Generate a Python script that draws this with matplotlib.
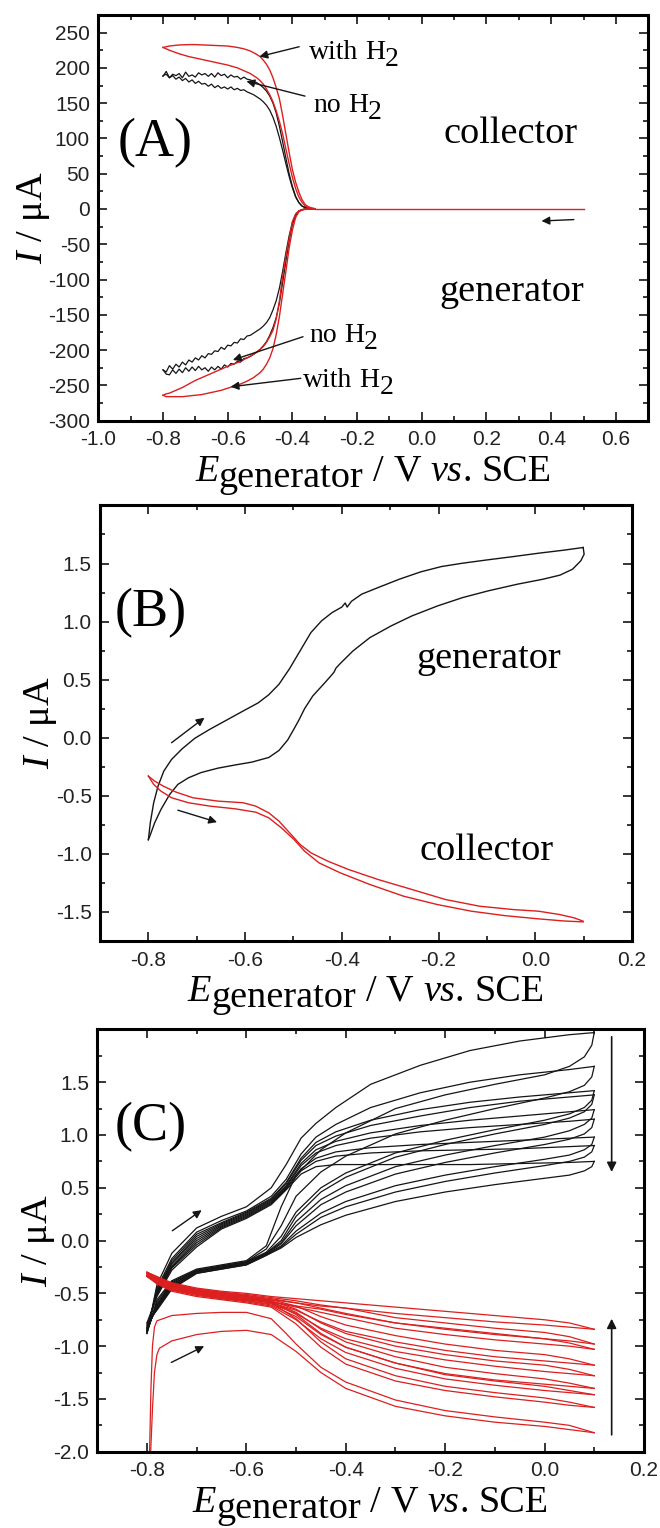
import matplotlib
matplotlib.use("Agg")
import matplotlib.pyplot as plt
from matplotlib.ticker import MultipleLocator

SERIF = "Liberation Serif"
SANS = "Liberation Sans"
RED = "#dc1f1f"
BLACK = "#151515"

# ---------------- panel A : I / uA vs E (V) ----------------
A_E_FINE = [-0.80, -0.79, -0.78, -0.77, -0.76, -0.75, -0.74, -0.73, -0.72, -0.71,
            -0.70, -0.69, -0.68, -0.67, -0.66, -0.65, -0.64, -0.63, -0.62, -0.61,
            -0.60, -0.59, -0.58, -0.57, -0.56, -0.55, -0.54, -0.53, -0.52, -0.51,
            -0.50, -0.49, -0.48, -0.47, -0.46, -0.45, -0.44, -0.43, -0.42, -0.41,
            -0.40, -0.39, -0.38, -0.37, -0.36, -0.35, -0.34, -0.33]
A_BLK_COL_UP = [188, 195, 186, 191, 189, 192, 186, 194, 188, 190,
                187, 193, 190, 192, 188, 192, 187, 193, 189, 191,
                186, 190, 187, 188, 184, 187, 184, 183, 181, 179,
                176, 172, 167, 160, 150, 136, 117, 95, 72, 50,
                32, 18, 9, 4, 2, 1, 0.5, 0]
A_BLK_COL_LO = [189, 191, 186, 189, 184, 187, 182, 185, 180, 183,
                178, 181, 177, 178, 174, 177, 172, 175, 171, 173,
                170, 173, 169, 171, 168, 169, 166, 164, 162, 159,
                156, 152, 147, 140, 130, 117, 101, 83, 64, 46,
                30, 17, 9, 4, 2, 0.5, 0, 0]
A_BLK_GEN_UP = [-228, -231, -222, -227, -220, -224, -217, -221, -214, -217,
                -211, -214, -208, -211, -205, -206, -201, -202, -196, -199,
                -193, -194, -189, -190, -184, -185, -180, -179, -176, -173,
                -170, -166, -161, -154, -143, -130, -112, -88, -62, -38,
                -19, -8, -3, -1, 0, 0, 0, 0]
A_BLK_GEN_LO = [-228, -234, -235, -228, -233, -227, -232, -225, -230, -224,
                -229, -223, -228, -225, -230, -224, -228, -223, -227, -221,
                -224, -219, -220, -216, -217, -212, -211, -209, -206, -203,
                -199, -194, -188, -179, -168, -154, -133, -104, -74, -45,
                -22, -9, -3, -1, 0, 0, 0, 0]

A_E_COL = [-0.80, -0.78, -0.75, -0.72, -0.70, -0.65, -0.60, -0.57, -0.55, -0.53,
           -0.51, -0.50, -0.49, -0.48, -0.47, -0.46, -0.45, -0.44, -0.43, -0.42,
           -0.41, -0.40, -0.39, -0.38, -0.37, -0.36, -0.35, -0.34, -0.33]
A_RED_COL_OUT = [229, 231, 232.5, 233, 233, 232, 231, 229, 227, 224,
                 219, 216, 211, 205, 197, 186, 172, 156, 132, 106,
                 80, 56, 38, 24, 13, 6, 3, 1.5, 0.5]
A_RED_COL_IN = [229, 225, 220, 216, 214, 209, 204, 200, 196, 192,
                186, 182, 177, 170, 162, 152, 139, 124, 106, 85,
                64, 45, 29, 17, 9, 4, 2, 1, 0]

A_E_GEN = [-0.80, -0.79, -0.78, -0.76, -0.74, -0.72, -0.70, -0.68, -0.66, -0.64,
           -0.62, -0.60, -0.58, -0.56, -0.54, -0.52, -0.50, -0.49, -0.48, -0.47,
           -0.46, -0.45, -0.44, -0.43, -0.42, -0.41, -0.40, -0.39, -0.38, -0.37,
           -0.36, -0.35, -0.34, -0.33]
A_RED_GEN_OUT = [-264, -266, -266, -266, -266, -265, -264, -263, -261, -259,
                 -257, -254, -251, -248, -244, -239, -232, -227, -220, -211,
                 -198, -178, -152, -120, -88, -55, -30, -12, -4, -1.5,
                 -0.5, 0, 0, 0]
A_RED_GEN_IN = [-264, -262, -261, -257, -253, -248, -243, -239, -235, -231,
                -227, -223, -219.5, -216, -211, -206, -199, -195, -189, -181,
                -172, -156, -130, -95, -66, -42, -18, -7, -2.5, -1,
                0, 0, 0, 0]
A_E_FLAT = [-0.33, 0.50]
A_I_FLAT = [0, 0]

# ---------------- panel B ----------------
B_BLK_FWD_E = [-0.800, -0.796, -0.789, -0.780, -0.768, -0.752, -0.730, -0.704, -0.674,
               -0.639, -0.604, -0.573, -0.551, -0.530, -0.508, -0.486, -0.464, -0.442,
               -0.420, -0.400, -0.393, -0.389, -0.380, -0.359, -0.325, -0.281, -0.237,
               -0.194, -0.150, -0.098, -0.045, 0.007, 0.059, 0.099]
B_BLK_FWD_I = [-0.880, -0.733, -0.560, -0.417, -0.287, -0.187, -0.095, -0.005, 0.070,
               0.150, 0.230, 0.300, 0.370, 0.460, 0.595, 0.750, 0.905, 1.006,
               1.078, 1.125, 1.160, 1.125, 1.175, 1.236, 1.293, 1.365, 1.428,
               1.474, 1.503, 1.532, 1.560, 1.589, 1.615, 1.638]
B_BLK_RET_E = [0.099, 0.101, 0.094, 0.077, 0.051, 0.016, -0.037, -0.098, -0.150,
               -0.202, -0.255, -0.298, -0.342, -0.377, -0.403, -0.412, -0.416, -0.421,
               -0.438, -0.460, -0.477, -0.489, -0.499, -0.512, -0.530, -0.551, -0.586,
               -0.621, -0.656, -0.691, -0.717, -0.739, -0.756, -0.774, -0.787, -0.797,
               -0.800]
B_BLK_RET_I = [1.638, 1.580, 1.523, 1.451, 1.400, 1.365, 1.322, 1.264, 1.207,
               1.135, 1.049, 0.963, 0.862, 0.747, 0.640, 0.600, 0.565, 0.540,
               0.460, 0.360, 0.250, 0.150, 0.075, -0.020, -0.110, -0.170, -0.210,
               -0.235, -0.262, -0.300, -0.345, -0.402, -0.489, -0.618, -0.733, -0.848,
               -0.876]
B_RED_UP_E = [-0.800, -0.787, -0.769, -0.743, -0.708, -0.656, -0.604, -0.578, -0.551,
              -0.530, -0.508, -0.486, -0.464, -0.429, -0.386, -0.325, -0.255, -0.185,
              -0.115, -0.045, 0.007, 0.051, 0.081, 0.099]
B_RED_UP_I = [-0.330, -0.374, -0.417, -0.468, -0.517, -0.546, -0.560, -0.589, -0.647,
              -0.718, -0.819, -0.920, -0.991, -1.063, -1.135, -1.221, -1.307, -1.394,
              -1.451, -1.480, -1.494, -1.523, -1.552, -1.580]
B_RED_LO_E = [-0.800, -0.789, -0.774, -0.752, -0.717, -0.673, -0.621, -0.578, -0.551,
              -0.525, -0.499, -0.477, -0.447, -0.403, -0.342, -0.272, -0.202, -0.132,
              -0.063, 0.007, 0.059, 0.099]
B_RED_LO_I = [-0.330, -0.402, -0.460, -0.517, -0.560, -0.589, -0.612, -0.641, -0.690,
              -0.776, -0.876, -0.977, -1.078, -1.164, -1.264, -1.365, -1.437, -1.494,
              -1.532, -1.560, -1.578, -1.586]

# ---------------- panel C : repeated cycles ----------------
C_BLK_FWD_E = [-0.80, -0.78, -0.75, -0.70, -0.65, -0.60, -0.55, -0.52, -0.49,
               -0.46, -0.42, -0.35, -0.25, -0.15, -0.05, 0.05, 0.10]
C_BLK_FWD = [
    [-0.88, -0.42, -0.12, 0.12, 0.23, 0.32, 0.50, 0.72, 0.97, 1.11, 1.26, 1.48, 1.66, 1.80, 1.89, 1.95, 1.97],
    [-0.87, -0.45, -0.17, 0.08, 0.19, 0.28, 0.42, 0.58, 0.82, 0.98, 1.10, 1.26, 1.40, 1.50, 1.57, 1.62, 1.65],
    [-0.86, -0.47, -0.19, 0.06, 0.17, 0.27, 0.40, 0.55, 0.78, 0.93, 1.03, 1.14, 1.24, 1.31, 1.36, 1.40, 1.42],
    [-0.85, -0.48, -0.21, 0.04, 0.16, 0.26, 0.39, 0.54, 0.76, 0.90, 0.99, 1.09, 1.18, 1.26, 1.32, 1.36, 1.38],
    [-0.84, -0.49, -0.22, 0.02, 0.15, 0.25, 0.38, 0.52, 0.73, 0.86, 0.94, 1.02, 1.09, 1.14, 1.18, 1.22, 1.24],
    [-0.83, -0.50, -0.24, 0.00, 0.14, 0.24, 0.37, 0.51, 0.71, 0.83, 0.90, 0.97, 1.03, 1.07, 1.10, 1.13, 1.15],
    [-0.82, -0.51, -0.25, -0.02, 0.13, 0.23, 0.36, 0.50, 0.68, 0.78, 0.84, 0.88, 0.91, 0.93, 0.95, 0.97, 0.98],
    [-0.80, -0.52, -0.26, -0.04, 0.12, 0.22, 0.35, 0.49, 0.66, 0.75, 0.80, 0.83, 0.85, 0.86, 0.87, 0.89, 0.90],
    [-0.78, -0.53, -0.28, -0.06, 0.11, 0.21, 0.34, 0.48, 0.63, 0.70, 0.72, 0.72, 0.72, 0.72, 0.73, 0.74, 0.75],
]
C_BLK_RET_E = [0.10, 0.095, 0.08, 0.05, 0.00, -0.10, -0.20, -0.30, -0.40, -0.45,
               -0.50, -0.53, -0.56, -0.60, -0.65, -0.70, -0.75, -0.78, -0.80]
C_BLK_RET = [
    [1.97, 1.85, 1.74, 1.65, 1.57, 1.48, 1.38, 1.25, 1.02, 0.86, 0.62, 0.32, -0.05, -0.19, -0.23, -0.27, -0.38, -0.56, -0.88],
    [1.65, 1.55, 1.47, 1.41, 1.35, 1.25, 1.14, 1.01, 0.80, 0.65, 0.42, 0.14, -0.08, -0.20, -0.24, -0.28, -0.39, -0.58, -0.87],
    [1.42, 1.33, 1.26, 1.20, 1.14, 1.05, 0.95, 0.83, 0.64, 0.50, 0.27, 0.04, -0.11, -0.20, -0.24, -0.28, -0.40, -0.60, -0.86],
    [1.38, 1.29, 1.22, 1.16, 1.10, 1.01, 0.91, 0.79, 0.60, 0.46, 0.23, 0.00, -0.12, -0.21, -0.25, -0.29, -0.41, -0.61, -0.85],
    [1.24, 1.16, 1.10, 1.04, 0.98, 0.90, 0.81, 0.70, 0.52, 0.39, 0.18, -0.02, -0.12, -0.21, -0.25, -0.29, -0.42, -0.62, -0.84],
    [1.15, 1.07, 1.01, 0.96, 0.91, 0.83, 0.74, 0.63, 0.46, 0.34, 0.14, -0.03, -0.13, -0.22, -0.26, -0.30, -0.43, -0.63, -0.83],
    [0.98, 0.91, 0.86, 0.81, 0.77, 0.70, 0.62, 0.52, 0.37, 0.26, 0.09, -0.05, -0.13, -0.22, -0.26, -0.30, -0.44, -0.64, -0.82],
    [0.90, 0.84, 0.79, 0.75, 0.71, 0.64, 0.56, 0.46, 0.32, 0.22, 0.06, -0.06, -0.14, -0.23, -0.27, -0.31, -0.45, -0.65, -0.80],
    [0.75, 0.70, 0.66, 0.62, 0.59, 0.53, 0.46, 0.37, 0.24, 0.15, 0.03, -0.07, -0.14, -0.23, -0.27, -0.31, -0.46, -0.66, -0.78],
]
C_RED_E = [-0.80, -0.78, -0.75, -0.70, -0.65, -0.60, -0.55, -0.50, -0.45, -0.40,
           -0.30, -0.20, -0.10, 0.00, 0.05, 0.10]
C_RED_UP = [
    [-0.31, -0.37, -0.44, -0.49, -0.52, -0.55, -0.59, -0.74, -0.96, -1.12, -1.28, -1.38, -1.44, -1.49, -1.53, -1.58],
    [-0.30, -0.36, -0.43, -0.48, -0.51, -0.54, -0.58, -0.70, -0.88, -1.01, -1.16, -1.27, -1.33, -1.38, -1.42, -1.46],
    [-0.31, -0.36, -0.43, -0.48, -0.51, -0.53, -0.58, -0.68, -0.84, -0.96, -1.10, -1.20, -1.26, -1.31, -1.35, -1.40],
    [-0.30, -0.35, -0.42, -0.47, -0.50, -0.53, -0.57, -0.65, -0.78, -0.88, -1.00, -1.08, -1.14, -1.18, -1.22, -1.28],
    [-0.31, -0.36, -0.42, -0.47, -0.50, -0.52, -0.56, -0.62, -0.72, -0.80, -0.90, -0.98, -1.04, -1.08, -1.12, -1.18],
    [-0.30, -0.35, -0.41, -0.46, -0.49, -0.52, -0.55, -0.59, -0.64, -0.69, -0.78, -0.83, -0.88, -0.93, -0.97, -1.03],
    [-0.31, -0.35, -0.41, -0.46, -0.49, -0.51, -0.54, -0.57, -0.61, -0.64, -0.73, -0.78, -0.83, -0.87, -0.91, -0.98],
    [-0.30, -0.34, -0.40, -0.45, -0.48, -0.50, -0.53, -0.55, -0.57, -0.59, -0.63, -0.67, -0.71, -0.75, -0.78, -0.84],
]
C_RED_LO = [
    [-0.34, -0.41, -0.48, -0.53, -0.56, -0.59, -0.63, -0.79, -1.01, -1.17, -1.33, -1.42, -1.48, -1.53, -1.56, -1.58],
    [-0.33, -0.40, -0.47, -0.52, -0.55, -0.58, -0.62, -0.75, -0.93, -1.06, -1.21, -1.31, -1.37, -1.42, -1.44, -1.46],
    [-0.34, -0.40, -0.47, -0.51, -0.55, -0.57, -0.61, -0.72, -0.89, -1.01, -1.16, -1.26, -1.32, -1.36, -1.38, -1.40],
    [-0.33, -0.39, -0.46, -0.51, -0.54, -0.57, -0.60, -0.69, -0.83, -0.93, -1.05, -1.13, -1.19, -1.24, -1.26, -1.28],
    [-0.34, -0.39, -0.46, -0.50, -0.54, -0.56, -0.59, -0.66, -0.77, -0.86, -0.96, -1.04, -1.10, -1.14, -1.16, -1.18],
    [-0.33, -0.39, -0.45, -0.50, -0.53, -0.56, -0.58, -0.63, -0.68, -0.73, -0.83, -0.89, -0.94, -0.98, -1.00, -1.03],
    [-0.33, -0.38, -0.45, -0.49, -0.53, -0.55, -0.58, -0.62, -0.65, -0.70, -0.78, -0.84, -0.89, -0.93, -0.95, -0.98],
    [-0.32, -0.37, -0.44, -0.48, -0.52, -0.54, -0.56, -0.59, -0.62, -0.64, -0.69, -0.73, -0.77, -0.80, -0.82, -0.84],
]
# first cycle of the collector, with the start-up transient at -0.8 V
C_RED1_UP_E = [-0.795, -0.792, -0.789, -0.785, -0.78, -0.75, -0.70, -0.65, -0.60, -0.55,
               -0.52, -0.50, -0.45, -0.40, -0.30, -0.20, -0.10, 0.00, 0.05, 0.10]
C_RED1_UP_I = [-2.05, -1.40, -1.00, -0.82, -0.76, -0.71, -0.69, -0.68, -0.68, -0.74,
               -0.88, -0.98, -1.20, -1.34, -1.51, -1.61, -1.67, -1.72, -1.75, -1.82]
C_RED1_LO_E = [-0.793, -0.789, -0.785, -0.78, -0.775, -0.75, -0.70, -0.65, -0.60, -0.55,
               -0.50, -0.45, -0.40, -0.30, -0.20, -0.10, 0.00, 0.05, 0.10]
C_RED1_LO_I = [-2.05, -1.60, -1.25, -1.08, -1.02, -0.95, -0.89, -0.86, -0.85, -0.89,
               -1.05, -1.25, -1.40, -1.57, -1.66, -1.72, -1.76, -1.79, -1.82]

plt.rcParams.update({
    "axes.unicode_minus": False,
    "font.family": SERIF,
    "mathtext.fontset": "custom",
    "mathtext.rm": SERIF,
    "mathtext.it": SERIF + ":italic",
})

fig = plt.figure(figsize=(6.6, 15.28), dpi=100)
axA = fig.add_axes([0.1489, 0.7247, 0.8333, 0.2655])
axB = fig.add_axes([0.1515, 0.3842, 0.8061, 0.2850])
axC = fig.add_axes([0.1474, 0.0499, 0.8283, 0.2764])


def setup(ax, xlim, ylim, xticks, yticks, xminor, yminor):
    ax.set_xlim(xlim)
    ax.set_ylim(ylim)
    ax.set_xticks(xticks)
    ax.set_yticks(yticks)
    ax.xaxis.set_minor_locator(MultipleLocator(xminor))
    ax.yaxis.set_minor_locator(MultipleLocator(yminor))
    ax.tick_params(which="both", direction="in", top=True, right=True, width=1.1,
                   labelfontfamily=SANS, labelsize=15, labelcolor="#222")
    ax.tick_params(which="major", length=6.5)
    ax.tick_params(which="minor", length=3.6)
    ax.tick_params(axis="y", pad=6)
    ax.tick_params(axis="x", pad=7)
    for s in ax.spines.values():
        s.set_linewidth(2.2)


def text_width(s, size, style):
    r = fig.canvas.get_renderer()
    t = fig.text(0, 0, "x" + s + "x", fontsize=size, family=SERIF, style=style)
    ref = fig.text(0, 0, "xx", fontsize=size, family=SERIF, style=style)
    w = t.get_window_extent(r).width - ref.get_window_extent(r).width
    t.remove()
    ref.remove()
    return w


def rich_text(ax, x, y, pieces, size, coords="data", ha="left", base_dy=0):
    # pieces: (text, style, vertical offset px, spaces before)
    space = text_width(" ", size, "normal")
    widths = [text_width(s, size, st) + n * space for s, st, dy, n in pieces]
    off = -sum(widths) / 2 if ha == "center" else 0.0
    for (s, st, dy, n), w in zip(pieces, widths):
        ax.annotate(s, xy=(x, y), xycoords=coords, xytext=(off + n * space, base_dy + dy),
                    textcoords="offset pixels", fontsize=size, family=SERIF, style=st,
                    ha="left", va="baseline", annotation_clip=False)
        off += w


def arrow(ax, tail, head, lw=1.0, scale=12):
    ax.annotate("", xy=head, xytext=tail,
                arrowprops=dict(arrowstyle="-|>", color=BLACK, lw=lw, mutation_scale=scale,
                                shrinkA=0, shrinkB=0))


XLABEL = [("E", "italic", 0, 0), ("generator", "normal", -6, 0), ("/", "normal", 0, 1),
          ("V", "normal", 0, 1), ("vs", "italic", 0, 1), (".", "normal", 0, 0),
          ("SCE", "normal", 0, 1)]


def labels(ax, ylab_x):
    rich_text(ax, 0.5, 0.0, XLABEL, 27.5, coords="axes fraction", ha="center", base_dy=-60)
    ax.set_ylabel(r"$I$ / μA", fontsize=27.5, family=SERIF)
    ax.yaxis.set_label_coords(ylab_x, 0.5)


# ---- A ----
setup(axA, (-1.0, 0.7), (-300, 275),
      [-1.0, -0.8, -0.6, -0.4, -0.2, 0.0, 0.2, 0.4, 0.6],
      [-300, -250, -200, -150, -100, -50, 0, 50, 100, 150, 200, 250], 0.1, 25)
for ys in (A_BLK_COL_UP, A_BLK_COL_LO, A_BLK_GEN_UP, A_BLK_GEN_LO):
    axA.plot(A_E_FINE, ys, color=BLACK, lw=0.9)
axA.plot(A_E_COL, A_RED_COL_OUT, color=RED, lw=1.0)
axA.plot(A_E_COL, A_RED_COL_IN, color=RED, lw=1.0)
axA.plot(A_E_GEN, A_RED_GEN_OUT, color=RED, lw=1.0)
axA.plot(A_E_GEN, A_RED_GEN_IN, color=RED, lw=1.0)
axA.plot(A_E_FLAT, A_I_FLAT, color=RED, lw=1.0)

axA.text(-0.94, 75, "(A)", fontsize=39, family=SERIF, va="baseline")
axA.text(0.067, 93, "collector", fontsize=27.5, family=SERIF, va="baseline")
axA.text(0.054, -130, "generator", fontsize=27.5, family=SERIF, va="baseline")
WITH_H2 = [("with", "normal", 0, 0), ("H", "normal", 0, 1), ("2", "normal", -7, 0)]
NO_H2 = [("no", "normal", 0, 0), ("H", "normal", 0, 1), ("2", "normal", -7, 0)]
rich_text(axA, -0.349, 213, WITH_H2, 20)
rich_text(axA, -0.336, 138, NO_H2, 20)
rich_text(axA, -0.347, -188, NO_H2, 20)
rich_text(axA, -0.367, -253, WITH_H2, 20)
arrow(axA, (-0.379, 230), (-0.502, 216))
arrow(axA, (-0.361, 160), (-0.542, 181))
arrow(axA, (-0.367, -181), (-0.584, -214))
arrow(axA, (-0.374, -240), (-0.591, -252))
arrow(axA, (0.47, -15), (0.37, -17))
labels(axA, -0.084)

# ---- B ----
setup(axB, (-0.9, 0.2), (-1.75, 2.0),
      [-0.8, -0.6, -0.4, -0.2, 0.0, 0.2],
      [-1.5, -1.0, -0.5, 0.0, 0.5, 1.0, 1.5], 0.1, 0.25)
axB.plot(B_BLK_FWD_E, B_BLK_FWD_I, color=BLACK, lw=1.0)
axB.plot(B_BLK_RET_E, B_BLK_RET_I, color=BLACK, lw=1.0)
axB.plot(B_RED_UP_E, B_RED_UP_I, color=RED, lw=1.0)
axB.plot(B_RED_LO_E, B_RED_LO_I, color=RED, lw=1.0)
axB.text(-0.87, 0.96, "(B)", fontsize=39, family=SERIF, va="baseline")
axB.text(-0.246, 0.60, "generator", fontsize=27.5, family=SERIF, va="baseline")
axB.text(-0.24, -1.055, "collector", fontsize=27.5, family=SERIF, va="baseline")
arrow(axB, (-0.752, -0.043), (-0.684, 0.172))
arrow(axB, (-0.739, -0.624), (-0.658, -0.727))
labels(axB, -0.077)

# ---- C ----
setup(axC, (-0.9, 0.2), (-2.0, 2.0),
      [-0.8, -0.6, -0.4, -0.2, 0.0, 0.2],
      [-2.0, -1.5, -1.0, -0.5, 0.0, 0.5, 1.0, 1.5], 0.1, 0.25)
for fwd, ret in zip(C_BLK_FWD, C_BLK_RET):
    axC.plot(C_BLK_FWD_E, fwd, color=BLACK, lw=0.9)
    axC.plot(C_BLK_RET_E, ret, color=BLACK, lw=0.9)
for up, lo in zip(C_RED_UP, C_RED_LO):
    axC.plot(C_RED_E, up, color=RED, lw=0.9)
    axC.plot(C_RED_E, lo, color=RED, lw=0.9)
axC.plot(C_RED1_UP_E, C_RED1_UP_I, color=RED, lw=0.9)
axC.plot(C_RED1_LO_E, C_RED1_LO_I, color=RED, lw=0.9)
axC.text(-0.866, 0.95, "(C)", fontsize=39, family=SERIF, va="baseline")
arrow(axC, (-0.749, 0.093), (-0.690, 0.288))
arrow(axC, (-0.751, -1.154), (-0.685, -1.0))
arrow(axC, (0.135, 1.93), (0.135, 0.65), lw=1.2, scale=14)
arrow(axC, (0.135, -1.84), (0.135, -0.74), lw=1.2, scale=14)
labels(axC, -0.0746)

fig.savefig("out.png", dpi=100)
